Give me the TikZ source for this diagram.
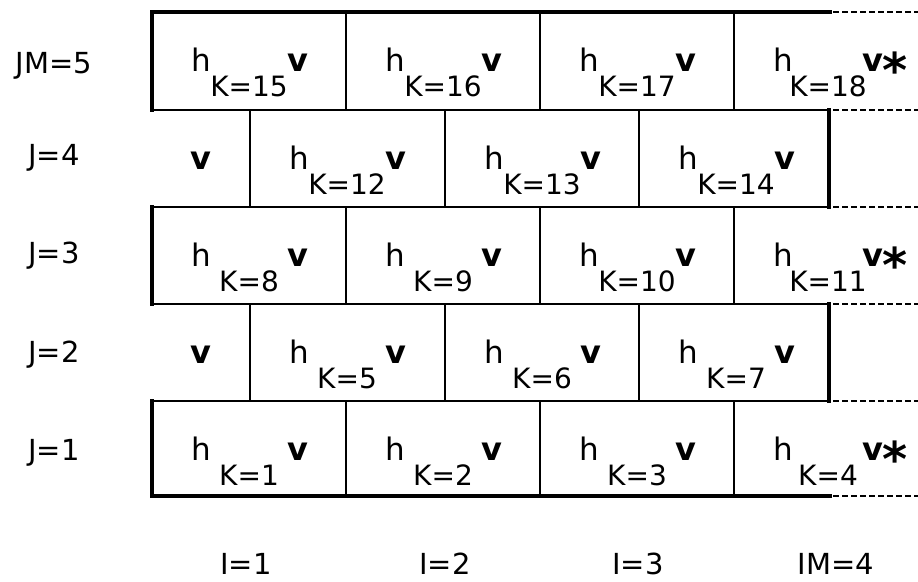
\documentclass[tikz,border=0pt]{standalone}
\usepackage{fontspec}
\setmainfont{DejaVu Sans}
\tikzset{
  thinline/.style={line width=1.7pt},
  thickborder/.style={line width=4.8pt, line cap=rect},
  dashline/.style={line width=1.8pt, dash pattern=on 6pt off 3pt},
  hsym/.style={anchor=base west, inner sep=0pt, font=\fontsize{31}{31}\selectfont},
  ksub/.style={anchor=base, inner sep=0pt, font=\fontsize{28}{28}\selectfont},
  vsym/.style={anchor=base west, inner sep=0pt, font=\fontsize{32}{32}\selectfont\bfseries},
  vsolo/.style={anchor=base, inner sep=0pt, font=\fontsize{32}{32}\selectfont\bfseries},
  astsym/.style={anchor=base west, inner sep=0pt, font=\fontsize{48}{48}\selectfont\bfseries},
  lab/.style={anchor=base, inner sep=0pt, font=\fontsize{29}{29}\selectfont},
}
\newcommand\mycellK[3]{%
  \node[hsym] (h#3) at ({#1+39},{#2+59.5}) {h};
  \node[ksub] (k#3) at ({#1+97},{#2+84}) {K=#3};
  \node[vsym] (v#3) at ({#1+135},{#2+59}) {v};
}
\newcommand\mycellS[3]{%
  \node[hsym] (h#3) at ({#1+39},{#2+59.5}) {h};
  \node[ksub] (k#3) at ({#1+94},{#2+84}) {K=#3};
  \node[vsym] (v#3) at ({#1+128},{#2+59}) {v};
  \node[astsym] (s#3) at ({#1+148},{#2+75}) {*};
}
\begin{document}
\begin{tikzpicture}[x=1pt,y=-1pt]
\useasboundingbox (0,0) rectangle (918,581);
% horizontal lines
\draw[thickborder] (152,12) -- (830,12);
\draw[thickborder] (152,496) -- (830,496);
\foreach \y in {110,207,304,401} \draw[thinline] (152,\y) -- (829,\y);
\foreach \y in {12,110,207,304,401,496} \draw[dashline] (833,\y) -- (918,\y);
% left thick edges (odd rows)
\draw[thickborder] (152,12) -- (152,110);
\draw[thickborder] (152,207) -- (152,304);
\draw[thickborder] (152,401) -- (152,496);
% right thick edges (even rows)
\draw[thickborder] (829,110) -- (829,207);
\draw[thickborder] (829,304) -- (829,401);
% interior vertical lines
\foreach \x in {346,540,734} {
  \draw[thinline] (\x,12) -- (\x,110);
  \draw[thinline] (\x,207) -- (\x,304);
  \draw[thinline] (\x,401) -- (\x,496);
}
\foreach \x in {250,445,639} {
  \draw[thinline] (\x,110) -- (\x,207);
  \draw[thinline] (\x,304) -- (\x,401);
}
% row JM=5
\mycellK{152}{12}{15}
\mycellK{346}{12}{16}
\mycellK{540}{12}{17}
\mycellS{734}{12}{18}
% row J=4
\node[vsolo] (vr4) at (201,169) {v};
\mycellK{250}{110}{12}
\mycellK{445}{110}{13}
\mycellK{639}{110}{14}
% row J=3
\mycellK{152}{207}{8}
\mycellK{346}{207}{9}
\mycellK{540}{207}{10}
\mycellS{734}{207}{11}
% row J=2
\node[vsolo] (vr2) at (201,363) {v};
\mycellK{250}{304}{5}
\mycellK{445}{304}{6}
\mycellK{639}{304}{7}
% row J=1
\mycellK{152}{401}{1}
\mycellK{346}{401}{2}
\mycellK{540}{401}{3}
\mycellS{734}{401}{4}
% row labels
\node[lab] (j5) at (54,73) {JM=5};
\node[lab] (j4) at (54,165) {J=4};
\node[lab] (j3) at (54,263) {J=3};
\node[lab] (j2) at (54,362) {J=2};
\node[lab] (j1) at (54,460) {J=1};
% column labels
\node[lab] (i1) at (246,574) {I=1};
\node[lab] (i2) at (445,574) {I=2};
\node[lab] (i3) at (638,574) {I=3};
\node[lab] (i4) at (836,574) {IM=4};
\end{tikzpicture}
\end{document}
